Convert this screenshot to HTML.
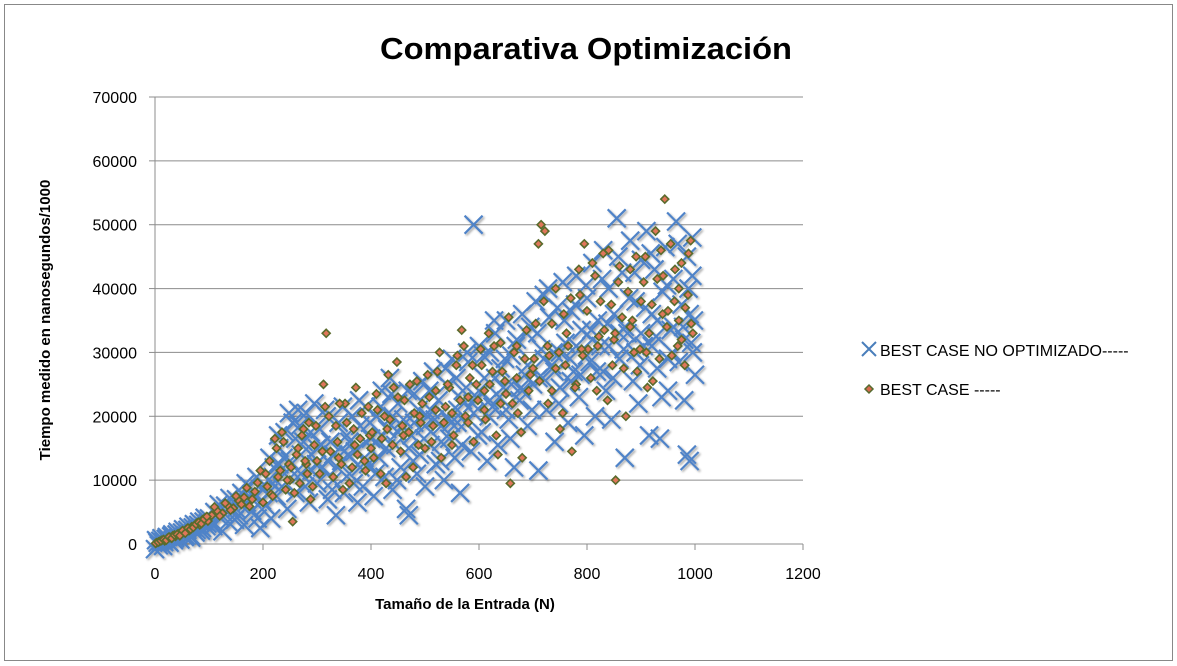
<!DOCTYPE html>
<html><head><meta charset="utf-8">
<style>
html,body{margin:0;padding:0;background:#fff;}
svg{display:block;font-family:"Liberation Sans",Arial,sans-serif;}
</style></head>
<body>
<svg id="chart" width="1177" height="666" viewBox="0 0 1177 666" xmlns="http://www.w3.org/2000/svg">
<defs>
<filter id="sh" x="-50%" y="-50%" width="200%" height="200%"><feDropShadow dx="1.5" dy="1.5" stdDeviation="1" flood-color="#000" flood-opacity="0.35"/></filter>
</defs>
<rect x="4.5" y="4.5" width="1168" height="656" fill="#fff" stroke="#888" stroke-width="1"/>
<text x="586" y="59" text-anchor="middle" font-size="31" font-weight="bold" fill="#000" textLength="412" lengthAdjust="spacingAndGlyphs">Comparativa Optimización</text>
<g id="grid"></g>
<g id="axes"></g>
<g id="s1" filter="url(#sh)"></g>
<g id="s2"></g>
<text x="465" y="609" text-anchor="middle" font-size="15" font-weight="bold" fill="#000">Tamaño  de la Entrada (N)</text>
<text transform="translate(50,320) rotate(-90)" text-anchor="middle" font-size="15" font-weight="bold" fill="#000">Tiempo medido en nanosegundos/1000</text>
<g>
<g>
<path d="M862,342 L876,356 M876,342 L862,356" stroke="#4a7ebb" stroke-width="2"/>
<text x="880" y="356" font-size="16" fill="#000">BEST CASE NO OPTIMIZADO-----</text>
</g>
<g>
<path d="M869,385 L873,389 L869,393 L865,389 Z" fill="#d96a4e" stroke="#556b2f" stroke-width="1.5"/>
<text x="880" y="395" font-size="16" fill="#000">BEST CASE -----</text>
</g>
</g>
</svg>
<script>
const xTicks=[0,200,400,600,800,1000,1200];
const yTicks=[0,10000,20000,30000,40000,50000,60000,70000];
const noOptX=[0,5,10,15,20,25,30,35,40,45,50,55,60,65,70,75,80,85,90,95,100,
105,110,120,125,130,135,140,150,155,160,165,170,175,180,185,190,195,200,
205,210,215,220,225,230,235,240,245,250,255,260,265,270,275,280,285,290,295,300,
305,310,315,320,325,330,335,340,345,350,355,360,365,370,375,380,385,390,395,400,
405,410,415,420,425,430,435,440,445,450,455,460,465,470,475,480,485,490,495,500,
505,510,515,520,525,530,535,540,545,550,555,560,565,570,575,580,585,590,595,600,
605,610,615,620,625,630,635,640,645,650,655,660,665,670,675,680,685,690,695,700,
705,710,715,720,725,730,735,740,745,750,755,760,765,770,775,780,785,790,795,800,
805,810,815,820,825,830,835,840,845,850,855,860,865,870,875,880,885,890,895,900,
905,910,915,920,925,930,935,940,945,950,955,960,965,970,975,980,985,990,993,995,998,1000,985,995,
150,180,210,240,270,300,330,360,390,420,450,480,510,540,570,600,630,660,690,720,750,780,810,840,870,900,930,960,990,
230,260,290,320,350,380,410,440,470,500,530,560,590,620,650,680,710,740,770,800,830,860,890,920,950,980,
2,7,12,17,22,27,32,37,42,47,52,57,62,67,72,77,82,87,92,97,
108,118,128,138,148,158,168,178,188,198,212,218,228,238,248,258,268,278,288,298,
308,318,328,338,348,358,368,378,388,398,408,418,428,438,448,458,468,478,488,498,
508,518,528,538,548,558,568,578,588,598,608,618,628,638,648,658,668,678,688,698,
708,718,728,738,748,758,768,778,788,798,808,818,828,838,848,858,868,878,888,898,908,918,928,938,948,958,968,978,988,996];
const noOptY=[-800,200,500,-300,800,400,1200,600,1500,900,1800,1100,2200,1400,2600,1800,3000,2100,3500,2800,4000,
3200,5000,4200,2000,6000,3500,5500,7000,4500,8000,3000,6500,9000,5200,7500,4000,2500,8500,
6000,10000,4000,12000,7500,15000,9000,17500,5500,13000,19000,8000,21000,11000,16000,20500,6500,14000,22000,9500,
18000,12000,21000,7000,16000,10000,4500,19000,13000,8000,17000,11000,20000,14500,6500,18500,9000,21500,12500,16500,
7500,20000,13500,24000,10500,18000,26000,8500,15500,22000,12000,19500,5500,4500,17000,23500,11000,14000,25500,9000,
20000,15500,27000,12500,22500,18500,10000,25000,16500,29000,13500,21000,8000,24000,19000,28500,14500,50000,23000,31000,
17500,26000,13000,30000,21500,33000,15500,27500,24500,35000,19500,29500,12000,32000,22500,36000,26500,18500,34000,25000,
38000,11500,30500,39000,21000,35500,28000,16000,37000,24500,41000,31500,19000,36500,27000,42000,23000,33500,17000,38500,
28500,44000,20000,35000,31000,46000,24000,40000,19500,36000,51000,29000,42500,13500,33000,47500,25500,38000,22000,44500,
31000,49000,17000,36000,43000,27500,16500,39500,46500,24000,33500,41500,50500,28500,37500,22500,45000,13000,31500,48000,35000,26500,14000,42000,
5500,7000,8000,11000,14000,15000,14000,16000,16000,17000,17500,19000,21000,20000,22500,24000,26000,25000,28000,29000,30000,31000,32000,31000,34000,33000,35000,34000,36000,
12500,16500,11500,13000,14500,12000,16000,20000,15000,18500,16000,19000,20500,22500,21000,24000,26000,27000,25500,29500,27000,33000,30000,31000,29000,32000,
600,-200,900,300,1100,200,1500,900,1900,700,2300,1300,2700,1000,3100,2200,3500,2500,4100,3200,
2800,6200,4800,7200,3800,6200,9500,7800,10500,6800,13500,9500,17000,13500,20500,11000,18500,9000,17500,12500,
15500,20000,8500,12000,21500,14000,9500,22500,13500,19000,11000,21500,15000,23500,10000,18500,24000,13000,21000,16500,
24000,19500,13000,27500,19000,26000,15500,30000,22000,17000,29500,20000,35000,23000,29000,16500,31000,24500,33000,21000,
33000,26000,40000,30000,22000,35000,29000,37500,26500,40500,33500,27000,41500,34500,26000,45000,30500,38500,42500,28000,37000,45500,32500,23000,40500,30000,47000,34000,40000,30000];
const bestX=[3,8,13,18,23,28,33,38,43,48,53,58,63,68,73,78,83,88,93,98,
105,115,125,135,145,155,165,175,185,195,200,
208,215,222,228,235,242,248,255,262,268,275,282,288,295,300,
312,317,322,330,338,345,352,360,368,375,383,390,398,
405,412,420,428,435,442,448,455,462,470,478,485,492,500,
508,515,523,530,538,545,553,560,568,575,583,590,598,
605,612,620,628,635,643,650,658,665,672,680,688,695,
702,710,715,722,728,735,742,750,757,765,772,780,787,795,
802,810,818,825,832,840,847,853,858,865,872,880,887,893,
900,908,915,922,930,937,944,950,957,963,970,975,982,988,993,
250,280,310,340,370,400,430,460,490,520,550,580,610,640,670,700,730,760,790,820,850,880,910,940,970,
1,6,11,16,21,26,31,36,41,46,51,56,61,66,71,76,81,86,91,96,
110,120,130,140,150,160,170,180,190,205,212,218,225,232,238,245,252,258,265,272,278,285,292,298,
305,315,325,335,342,348,355,365,372,380,388,395,402,410,418,425,432,440,450,458,465,472,480,488,495,
505,512,520,527,535,542,550,558,565,572,580,588,595,603,610,618,625,632,640,648,655,662,670,678,685,692,
705,712,720,727,735,742,748,755,762,770,778,785,792,800,807,815,822,830,838,845,852,860,868,876,884,891,898,905,912,920,927,934,941,948,955,962,968,975,981,987,992,996];
const bestY=[200,400,600,500,900,1000,1300,1200,1600,1800,2000,2300,2100,2700,2900,3300,3000,3800,4100,3600,
4500,5200,4800,6000,5600,6800,7300,5900,8200,11500,6500,
9000,7800,16500,10500,17500,8500,12500,3500,14000,9500,18000,11000,7000,15500,13000,
25000,33000,20000,10500,16000,12500,22000,9500,18000,14000,20500,11500,17000,
13500,21000,16500,9500,19500,24500,28500,14500,22500,17500,12000,25500,19000,15000,
23000,18500,27000,13500,21500,24500,17000,29500,33500,20000,26000,16000,22500,
28000,19500,25000,31000,14000,27000,23500,9500,30000,20500,13500,33500,26500,
29000,47000,50000,49000,22000,34500,27500,18000,36000,31000,14500,25000,39000,47000,
30500,44000,24000,38000,33500,46000,28000,10000,41000,35500,20000,43000,30000,27000,
38000,45000,33000,25500,41500,46000,54000,36500,29500,43000,40000,32000,37000,45500,34500,
10000,12500,14500,13500,15500,15000,18000,17000,20000,21000,20500,23000,24000,22000,26000,27500,29500,28000,30500,31000,32000,34000,30000,36000,35000,
100,300,500,700,600,1100,900,1400,1500,1300,2100,1700,2500,2300,2600,3100,3400,3200,3900,4300,
5800,4400,6400,5300,7500,6200,8800,7000,9600,11000,13000,7500,15000,11500,16000,10000,12000,8000,15000,17000,13000,19000,9000,18500,
11000,21500,14500,18500,22000,8500,19000,12000,24500,16500,13000,21500,17500,23500,11000,20000,26500,15500,23000,18500,10500,25000,20500,15500,22000,
26500,16000,24000,30000,19000,25000,15500,28000,22500,31000,19000,28000,25000,30500,21000,33000,27000,17000,31500,25500,35500,22000,31000,17500,29000,24000,
34500,25500,38000,31000,24000,40000,30000,20500,33000,38500,24500,43000,29500,36500,26000,42000,32500,45500,22500,37500,33000,43500,27500,39500,35000,45000,30500,41000,24500,37500,49000,29000,42000,34000,47000,38000,31000,44000,28000,39000,47500,33000];

const NS='http://www.w3.org/2000/svg';
const L=155,R=803,T=97,B=544;
function sx(v){return L+(v-0)/(1200-0)*(R-L);}
function sy(v){return B-(v-0)/(70000-0)*(B-T);}
function mk(tag,attrs,parent){const e=document.createElementNS(NS,tag);for(const k in attrs)e.setAttribute(k,attrs[k]);parent.appendChild(e);return e;}
const grid=document.getElementById('grid'),axes=document.getElementById('axes');
yTicks.forEach(v=>{
  if(v>0){const g=mk('line',{x1:L,x2:R,y1:sy(v),y2:sy(v),stroke:'#8c8c8c','stroke-width':1},grid);
  
  }
  const tk=mk('line',{x1:L-6,x2:L,y1:sy(v),y2:sy(v),stroke:'#8c8c8c'},axes);
  
  
  const t=mk('text',{x:137,y:sy(v)+6,'text-anchor':'end','font-size':16,fill:'#000'},axes);
  t.textContent=v;
  
  
});
xTicks.forEach(v=>{
  const tk=mk('line',{x1:sx(v),x2:sx(v),y1:B,y2:B+6,stroke:'#8c8c8c'},axes);
  
  
  const t=mk('text',{x:sx(v),y:579,'text-anchor':'middle','font-size':16,fill:'#000'},axes);
  t.textContent=v;
  
  
});
const ya=mk('line',{x1:L,x2:L,y1:T,y2:B,stroke:'#8c8c8c'},axes);


const xa=mk('line',{x1:L,x2:R,y1:B,y2:B,stroke:'#8c8c8c'},axes);


const s1=document.getElementById('s1'),s2=document.getElementById('s2');
noOptX.forEach((x,i)=>{
  const cx=sx(x),cy=sy(noOptY[i]),h=9;
  const p=mk('path',{d:`M${cx-h},${cy-h} L${cx+h},${cy+h} M${cx+h},${cy-h} L${cx-h},${cy+h}`,stroke:'#4f83c8','stroke-width':2.2},s1);
  
  
});
bestX.forEach((x,i)=>{
  const cx=sx(x),cy=sy(bestY[i]),h=4;
  const p=mk('path',{d:`M${cx},${cy-h} L${cx+h},${cy} L${cx},${cy+h} L${cx-h},${cy} Z`,fill:'#e0765a',stroke:'#5a6b2c','stroke-width':1.6},s2);
  
  
});
</script>
</body></html>
